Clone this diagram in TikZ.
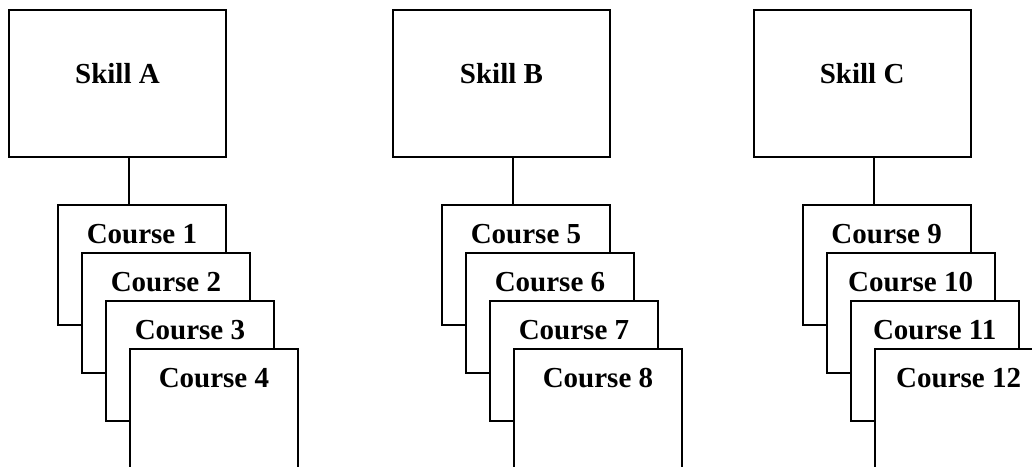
\documentclass[tikz,border=0pt]{standalone}
\usepackage{fontspec}
\setmainfont{Liberation Serif}
\begin{document}
\begin{tikzpicture}[x=1pt,y=-1pt,
  every node/.style={font=\fontsize{29}{34}\selectfont\bfseries},
  frame/.style={draw,line width=1.9pt,fill=white,anchor=north west,inner sep=0pt},
  skillbox/.style={frame,minimum width=217pt,minimum height=147pt},
  coursebox/.style={frame,minimum width=168pt,minimum height=120pt},
  title/.style={anchor=base,inner sep=0pt},
  link/.style={line width=1.6pt}]
  \useasboundingbox (0,0) rectangle (1032,466);
  \clip (0,0) rectangle (1032,466);
  \fill[white] (0,0) rectangle (1032,466);
  % one column per skill: a skill box and a fanned stack of four course cards
  \foreach \g/\gx/\first in {A/8/1,B/392/5,C/752.7/9}{
    \node[skillbox,label={[title,yshift=-74pt]north:Skill \g}] (skill\g) at (\gx,9) {};
    \path (skill\g.south) ++(11.7,0) coordinate (joint\g);
    \foreach \k in {0,...,3}{
      \pgfmathtruncatemacro\num{\first+\k}
      \node[coursebox,label={[title,yshift=-39.5pt]north:Course \num}] (course\num)
        at (\gx+49+24*\k,204+48*\k) {};
    }
    \draw[link] (joint\g) -- (joint\g |- course\first.north);
  }
\end{tikzpicture}
\end{document}
